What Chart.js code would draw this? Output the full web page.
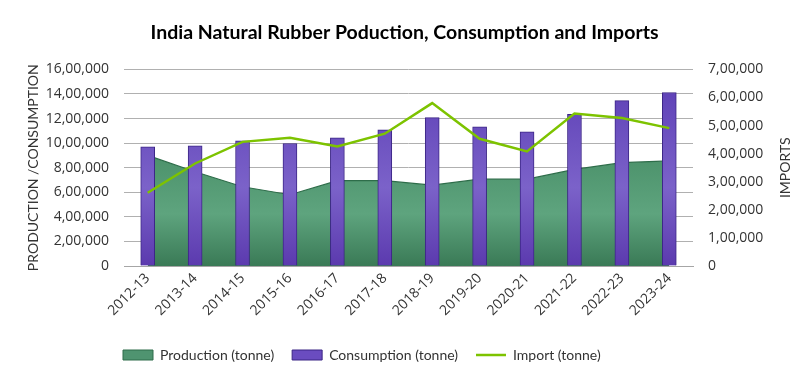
<!DOCTYPE html>
<html>
<head>
<meta charset="utf-8">
<script src="https://cdn.jsdelivr.net/npm/chart.js@4.4.1/dist/chart.umd.min.js"></script>
<style>
  html, body { margin: 0; padding: 0; background: #fff; }
  #wrap { width: 809px; height: 387px; }
</style>
</head>
<body>
<div id="wrap"><canvas id="chart"></canvas></div>
<script>
const years = ["2012-13", "2013-14", "2014-15", "2015-16", "2016-17", "2017-18",
  "2018-19", "2019-20", "2020-21", "2021-22", "2022-23", "2023-24"];
const production = [900000, 767000, 645000, 580000, 694000, 694000,
  658000, 707000, 707000, 786000, 841000, 855000];
const consumption = [970000, 978000, 1019000, 997000, 1043000, 1109000,
  1207000, 1133000, 1092000, 1234000, 1346000, 1412000];
const imports = [261000, 365000, 442000, 457000, 426000, 471000,
  580000, 453000, 408000, 543000, 527000, 491000];
const leftTicksMax = 1600000;
const rightTicksMax = 700000;

const FONT = "Lato";
const NUM_FONT = "Open Sans";
const TEXT = "#333333";

// Indian digit grouping: 16,00,000
function indian(v) {
  const s = String(Math.round(v));
  if (s.length <= 3) return s;
  const last3 = s.slice(-3);
  const rest = s.slice(0, -3).replace(/\B(?=(\d{2})+(?!\d))/g, ",");
  return rest + "," + last3;
}

function areaGradient(context) {
  const { ctx, chartArea } = context.chart;
  if (!chartArea) return null;
  const g = ctx.createLinearGradient(0, chartArea.top + 80, 0, chartArea.bottom);
  g.addColorStop(0, "#4a9069");
  g.addColorStop(0.55, "#5ea47e");
  g.addColorStop(1, "#3a7a56");
  return g;
}

function barGradient(context) {
  const { ctx, chartArea } = context.chart;
  if (!chartArea) return null;
  const g = ctx.createLinearGradient(0, chartArea.top, 0, chartArea.bottom);
  g.addColorStop(0, "#5a3cb4");
  g.addColorStop(0.6, "#7b62c9");
  g.addColorStop(1, "#5b3aae");
  return g;
}

// right axis title reads bottom-to-top like the original
const rightTitlePlugin = {
  id: "rightTitlePlugin",
  afterDraw(chart) {
    const s = chart.scales.y1;
    const { ctx } = chart;
    ctx.save();
    ctx.translate(s.right - 24, (s.top + s.bottom) / 2);
    ctx.rotate(-Math.PI / 2);
    ctx.font = `14px ${FONT}`;
    ctx.fillStyle = TEXT;
    ctx.textAlign = "center";
    ctx.textBaseline = "middle";
    ctx.fillText("IMPORTS", 0, 0);
    ctx.restore();
  },
};

// legend sits left of centre in the original
const legendShiftPlugin = {
  id: "legendShiftPlugin",
  afterLayout(chart) {
    const lg = chart.legend;
    const pad = lg.options.labels.padding;
    lg.left = 123 - pad;
  },
};

new Chart(document.getElementById("chart"), {
  type: "bar",
  data: {
    labels: years,
    datasets: [
      {
        type: "line",
        label: "Production (tonne)",
        data: production,
        yAxisID: "y",
        fill: "origin",
        backgroundColor: areaGradient,
        borderColor: "#2e6d4a",
        borderWidth: 1.2,
        pointRadius: 0,
        tension: 0,
        order: 3,
      },
      {
        type: "bar",
        label: "Consumption (tonne)",
        data: consumption,
        yAxisID: "y",
        backgroundColor: barGradient,
        borderColor: "#3b2585",
        borderWidth: 1,
        barThickness: 14,
        order: 2,
      },
      {
        type: "line",
        label: "Import (tonne)",
        data: imports,
        yAxisID: "y1",
        fill: false,
        borderColor: "#7dc300",
        borderWidth: 2.5,
        pointRadius: 0,
        tension: 0,
        order: 1,
      },
    ],
  },
  options: {
    responsive: true,
    maintainAspectRatio: false,
    animation: false,
    layout: { padding: { bottom: 15 } },
    plugins: {
      tooltip: { enabled: false },
      title: {
        display: true,
        text: "India Natural Rubber Poduction, Consumption and Imports",
        color: "#000",
        font: { family: FONT, size: 19.5, weight: "bold" },
        padding: { top: 21, bottom: 25 },
      },
      legend: {
        position: "bottom",
        align: "start",
        labels: {
          usePointStyle: true,
          pointStyleWidth: 30,
          boxHeight: 10,
          padding: 18,
          color: TEXT,
          font: { family: FONT, size: 14 },
          sort: (a, b) => a.datasetIndex - b.datasetIndex,
          generateLabels(chart) {
            const items = Chart.defaults.plugins.legend.labels.generateLabels(chart);
            items.forEach((it) => {
              if (it.datasetIndex === 0) {
                it.pointStyle = "rect";
                it.fillStyle = "#4f9470";
                it.strokeStyle = "#2e6d4a";
                it.lineWidth = 1;
              } else if (it.datasetIndex === 1) {
                it.pointStyle = "rect";
                it.fillStyle = "#6a4cc0";
                it.strokeStyle = "#3b2585";
                it.lineWidth = 1;
              } else {
                it.pointStyle = "line";
                it.strokeStyle = "#7dc300";
                it.lineWidth = 2.5;
              }
            });
            return items;
          },
        },
      },
    },
    scales: {
      x: {
        offset: true,
        grid: { display: false, drawTicks: false },
        border: { display: true, color: "#a6a6a6" },
        ticks: {
          color: TEXT,
          font: { family: NUM_FONT, size: 14 },
          minRotation: 45,
          maxRotation: 45,
          padding: 4,
        },
        afterFit(scale) { scale.height = 64; },
      },
      y: {
        position: "left",
        min: 0,
        max: leftTicksMax,
        grid: { color: "#b0b0b0", drawTicks: false },
        border: { display: false },
        ticks: {
          stepSize: 200000,
          color: TEXT,
          font: { family: NUM_FONT, size: 14 },
          padding: 15,
          callback: (v) => indian(v),
        },
        title: {
          display: true,
          text: "PRODUCTION /CONSUMPTION",
          color: TEXT,
          font: { family: FONT, size: 14 },
          padding: { top: 25, bottom: 0 },
        },
        afterFit(scale) { scale.width = 124; },
      },
      y1: {
        position: "right",
        min: 0,
        max: rightTicksMax,
        grid: { drawOnChartArea: false, drawTicks: false },
        border: { display: false },
        ticks: {
          stepSize: 100000,
          color: TEXT,
          font: { family: NUM_FONT, size: 14 },
          padding: 15,
          callback: (v) => indian(v),
        },
        afterFit(scale) { scale.width = 116; },
      },
    },
  },
  plugins: [rightTitlePlugin, legendShiftPlugin],
});
</script>
</body>
</html>
